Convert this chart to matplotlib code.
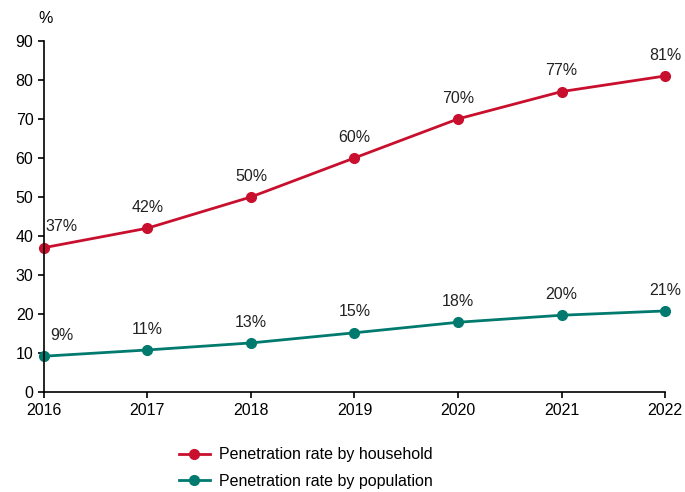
import matplotlib.pyplot as plt

plt.rcParams['font.family'] = ['Liberation Sans', 'DejaVu Sans']

years = [2016, 2017, 2018, 2019, 2020, 2021, 2022]
household = [37, 42, 50, 60, 70, 77, 81]
population = [9.2, 10.8, 12.6, 15.2, 17.9, 19.7, 20.8]
household_labels = ["37%", "42%", "50%", "60%", "70%", "77%", "81%"]
population_labels = ["9%", "11%", "13%", "15%", "18%", "20%", "21%"]

red = "#C8102E"
teal = "#007A6E"
fs = 11.5

fig = plt.figure(figsize=(6.85, 4.92), dpi=100)
ax = fig.add_axes([0.064, 0.203, 0.907, 0.714])

ax.plot(years, household, color=red, lw=2, marker='o', ms=7, clip_on=False,
        label="Penetration rate by household")
ax.plot(years, population, color=teal, lw=2, marker='o', ms=7, clip_on=False,
        label="Penetration rate by population")

for vals, labs in ((household, household_labels), (population, population_labels)):
    for i, (x, y) in enumerate(zip(years, vals)):
        dx = 13 if i == 0 else 0
        ax.annotate(labs[i], (x, y), xytext=(dx, 15), textcoords='offset points',
                    ha='center', va='center', fontsize=fs, color='#222222')

ax.set_xlim(2016, 2022)
ax.set_ylim(0, 90)
ax.set_xticks(years)
ax.set_yticks(range(0, 91, 10))
ax.tick_params(labelsize=fs, length=4, width=1.2, colors='black')
for s in ('top', 'right'):
    ax.spines[s].set_visible(False)
for s in ('left', 'bottom'):
    ax.spines[s].set_linewidth(1.2)

fig.text(0.066, 0.962, "%", fontsize=fs, ha='center', va='center')

fig.legend(loc='center left', bbox_to_anchor=(0.24, 0.049), frameon=False,
           fontsize=fs, handlelength=1.95, handletextpad=0.55, labelspacing=0.72)

fig.savefig("out.png", dpi=100)
